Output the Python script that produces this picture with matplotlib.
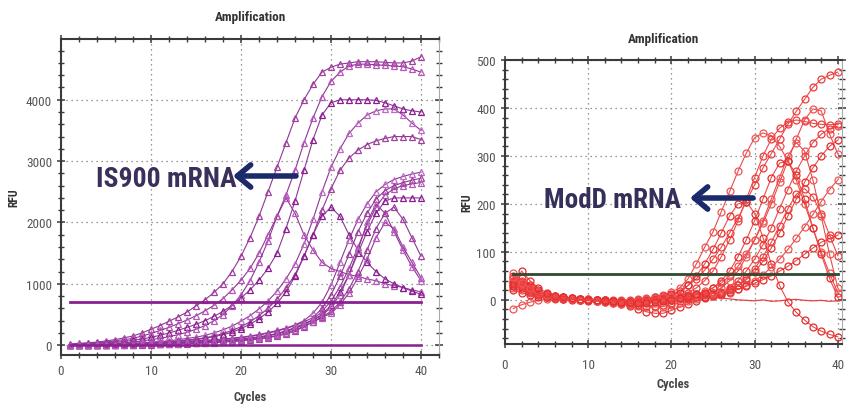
import matplotlib
matplotlib.use("Agg")
import matplotlib.pyplot as plt
from matplotlib import font_manager
from matplotlib.ticker import MultipleLocator

# pick a condensed face if the machine has one, else plain Liberation Sans
installed = {f.name for f in font_manager.fontManager.ttflist}
narrow_faces = ["Liberation Sans Narrow", "Roboto Condensed", "Open Sans Condensed",
                "DejaVu Sans Condensed", "Noto Sans Condensed", "Arial Narrow"]
narrow = next((n for n in narrow_faces if n in installed), None)
plt.rcParams["font.family"] = [narrow or "Liberation Sans", "DejaVu Sans"]
big_size = 20 if narrow else 17

cycles = list(range(1, 41))

# IS900 mRNA curves (RFU per cycle)
is900_a = [20, 30, 40, 50, 70, 90, 120, 150, 200, 260, 320, 390, 460, 540, 640, 740, 860, 1000, 1200, 1450,
           1750, 2100, 2500, 2900, 3300, 3700, 4000, 4250, 4450, 4530, 4580, 4600, 4620, 4620, 4620, 4610, 4600, 4600, 4630, 4700]
is900_b = [10, 20, 30, 40, 50, 70, 90, 110, 150, 190, 240, 290, 350, 410, 480, 560, 650, 760, 900, 1060,
           1250, 1500, 1800, 2100, 2450, 2850, 3300, 3700, 4050, 4300, 4450, 4550, 4580, 4580, 4570, 4560, 4550, 4540, 4500, 4450]
is900_c = [0, 10, 20, 30, 40, 50, 60, 80, 100, 130, 160, 200, 240, 290, 340, 400, 470, 550, 650, 770,
           900, 1060, 1250, 1500, 1900, 2350, 2850, 3350, 3750, 3950, 4000, 4000, 4000, 4000, 3990, 3950, 3900, 3850, 3820, 3800]
is900_d = [0, 0, 5, 10, 15, 20, 25, 30, 40, 50, 60, 70, 90, 110, 130, 160, 200, 250, 310, 390,
           480, 590, 720, 880, 1080, 1320, 1650, 2050, 2500, 2900, 3200, 3450, 3620, 3750, 3820, 3850, 3850, 3750, 3620, 3500]
is900_e = [0, 0, 0, 5, 10, 15, 20, 25, 30, 40, 50, 60, 70, 85, 100, 120, 150, 190, 240, 300,
           380, 480, 600, 750, 930, 1150, 1450, 1800, 2200, 2550, 2850, 3050, 3180, 3270, 3330, 3370, 3400, 3400, 3400, 3350]
is900_p1 = [0, 5, 10, 15, 20, 30, 40, 50, 70, 90, 110, 140, 170, 210, 260, 320, 400, 500, 640, 820,
            1050, 1350, 1700, 2100, 2400, 2150, 1800, 1550, 1350, 1250, 1200, 1150, 1120, 1080, 1050, 1000, 970, 940, 900, 870]
is900_p2 = [0, 0, 5, 5, 10, 10, 15, 20, 25, 30, 40, 50, 60, 75, 90, 110, 140, 170, 210, 270,
            340, 430, 540, 680, 870, 1120, 1450, 1800, 2100, 2250, 2100, 1800, 1550, 1350, 1200, 1080, 1000, 940, 880, 830]
is900_f = [10, 10, 10, 15, 15, 20, 20, 25, 30, 35, 40, 45, 50, 60, 70, 80, 90, 100, 115, 130,
           150, 175, 205, 240, 280, 330, 400, 520, 700, 980, 1350, 1720, 2050, 2300, 2500, 2620, 2700, 2750, 2790, 2820]
is900_g = [0, 5, 5, 10, 10, 15, 15, 20, 25, 30, 35, 40, 45, 50, 60, 70, 80, 90, 105, 120,
           140, 165, 195, 230, 270, 320, 380, 450, 600, 820, 1120, 1480, 1850, 2150, 2380, 2520, 2600, 2650, 2690, 2720]
is900_h = [0, 0, 5, 5, 10, 10, 15, 15, 20, 25, 30, 35, 40, 45, 50, 55, 65, 75, 85, 100,
           115, 135, 160, 190, 230, 280, 340, 420, 550, 720, 950, 1250, 1600, 1950, 2250, 2450, 2550, 2600, 2630, 2650]
is900_i = [10, 10, 10, 10, 15, 15, 15, 20, 20, 25, 25, 30, 35, 40, 45, 50, 60, 70, 80, 95,
           110, 130, 155, 185, 225, 275, 340, 410, 500, 650, 870, 1150, 1500, 1850, 2150, 2350, 2400, 2400, 2400, 2400]
is900_j = [0, 0, 0, 5, 5, 5, 10, 10, 15, 15, 20, 25, 30, 35, 40, 50, 60, 70, 80, 95,
           110, 130, 155, 190, 230, 290, 350, 410, 480, 620, 820, 1150, 1550, 2000, 2300, 2150, 1850, 1550, 1280, 1050]
is900_k = [0, 0, 0, 0, 5, 5, 5, 10, 10, 10, 15, 15, 20, 25, 30, 35, 40, 50, 60, 70,
           85, 100, 120, 150, 180, 230, 300, 380, 460, 550, 700, 920, 1200, 1550, 1900, 2150, 2250, 2050, 1750, 1450]
is900_l = [5, 5, 5, 5, 5, 10, 10, 10, 15, 15, 20, 20, 25, 30, 35, 40, 50, 60, 70, 80,
           95, 110, 130, 160, 200, 250, 310, 380, 450, 520, 660, 850, 1100, 1400, 1750, 2000, 1900, 1600, 1350, 1100]
is900_neg = [0, 0, 0, 0, 0, 0, 0, 0, 0, 0, 0, 0, 0, 0, 0, 0, 0, 0, 0, 0,
             0, 0, 0, 0, 0, 0, 0, 0, 0, 0, 0, 0, 0, 0, 0, 0, 0, 0, 0, 0]
is900_threshold = 700

# ModD mRNA curves (RFU per cycle)
modd_1 = [45, 35, 22, 14, 9, 6, 4, 2, 1, 0, 0, -1, -2, -3, -4, -4, -3, -1, 3, 10,
          18, 30, 44, 62, 85, 110, 140, 170, 205, 240, 275, 305, 335, 366, 393, 418, 443, 460, 468, 475]
modd_2 = [55, 40, 28, 18, 12, 8, 5, 3, 2, 1, 0, 0, -1, -1, 0, 1, 3, 6, 10, 16,
          25, 44, 75, 110, 142, 184, 226, 268, 306, 338, 348, 342, 320, 290, 250, 200, 150, 100, 55, 15]
modd_3 = [30, 45, 30, 20, 12, 8, 5, 3, 1, 0, -1, -2, -3, -3, -2, 0, 2, 5, 9, 12,
          15, 30, 50, 75, 105, 140, 175, 200, 205, 180, 130, 75, 30, -4, -26, -42, -56, -65, -72, -77]
modd_4 = [40, 30, 20, 14, 10, 7, 5, 3, 2, 1, 0, -1, -2, -3, -3, -2, -1, 1, 3, 5,
          8, 15, 25, 40, 60, 90, 125, 165, 210, 255, 300, 335, 358, 370, 375, 372, 368, 366, 365, 366]
modd_5 = [25, 20, 15, 10, 7, 5, 3, 2, 1, 0, -1, -2, -4, -5, -6, -6, -5, -3, 0, 3,
          5, 8, 12, 18, 25, 35, 50, 70, 95, 125, 160, 200, 245, 290, 335, 375, 398, 394, 346, 304]
modd_6 = [35, 25, 16, 10, 6, 3, 1, 0, -1, -2, -3, -5, -7, -9, -12, -18, -25, -28, -28, -22,
          -15, -8, -2, 3, 10, 15, 22, 30, 42, 58, 80, 108, 140, 175, 210, 245, 275, 300, 320, 333]
modd_7 = [50, 38, 26, 17, 11, 7, 4, 2, 0, -1, -2, -3, -4, -4, -4, -3, -2, 0, 2, 4,
          6, 8, 10, 12, 14, 15, 25, 40, 60, 85, 115, 150, 190, 230, 268, 300, 328, 345, 357, 362]
modd_8 = [-18, -10, -5, -1, 1, 2, 2, 1, 0, -1, -2, -4, -6, -8, -10, -12, -14, -15, -14, -10,
          -6, -2, 2, 5, 8, 10, 15, 22, 30, 40, 52, 68, 85, 105, 128, 152, 178, 205, 230, 250]
modd_9 = [20, 15, 10, 7, 5, 3, 2, 1, 0, 0, -1, -1, -2, -2, -2, -1, 0, 1, 2, 3,
          4, 4, 5, 5, 8, 12, 17, 22, 28, 35, 42, 50, 60, 70, 82, 95, 108, 120, 128, 135]
modd_10 = [38, 28, 18, 12, 8, 5, 3, 1, 0, -1, -2, -3, -5, -7, -9, -11, -12, -12, -10, -6,
           -2, 2, 6, 10, 14, 17, 20, 30, 45, 65, 90, 120, 155, 190, 220, 232, 215, 180, 135, 92]
modd_11 = [48, 36, 25, 17, 11, 7, 4, 2, 0, -1, -2, -3, -3, -3, -2, -1, 1, 3, 5, 7,
           9, 11, 13, 14, 15, 25, 40, 60, 90, 125, 165, 210, 255, 300, 328, 310, 250, 175, 95, 25]
modd_12 = [28, 60, 40, 25, 15, 9, 5, 3, 1, 0, -1, -2, -3, -4, -5, -6, -6, -5, -3, 0,
           4, 8, 12, 15, 25, 40, 60, 90, 125, 165, 210, 255, 285, 290, 260, 210, 150, 95, 45, 5]
modd_neg = [30, 22, 15, 10, 6, 4, 2, 1, 0, 0, -1, -1, -2, -2, -1, 0, 1, 2, 3, 3,
            4, 4, 3, 4, 4, 4, 2, 0, -1, -2, 0, -3, -2, 0, 1, -1, -2, -1, -3, -2]
modd_threshold = 53

is900_curves = [is900_a, is900_b, is900_c, is900_d, is900_e, is900_p1, is900_p2,
                is900_f, is900_g, is900_h, is900_i, is900_j, is900_k, is900_l]
modd_curves = [modd_1, modd_2, modd_3, modd_4, modd_5, modd_6, modd_7, modd_8,
               modd_9, modd_10, modd_11, modd_12]

purples = ["#a0409f", "#b556b8", "#8a1c8e", "#bd6cc2"]
reds = ["#ec3b3b", "#f05555", "#e52a2a"]

fig = plt.figure(figsize=(8.5, 4.06), dpi=100)
ax1 = fig.add_axes([61 / 850, 50 / 406, 378 / 850, 316 / 406])
ax2 = fig.add_axes([505 / 850, 61 / 406, 337 / 850, 284 / 406])


def style_axes(ax, ymin, ymax, xmax, yminor):
    ax.set_xlim(0, xmax)
    ax.set_ylim(ymin, ymax)
    ax.xaxis.set_major_locator(MultipleLocator(10))
    ax.xaxis.set_minor_locator(MultipleLocator(2))
    ax.yaxis.set_minor_locator(MultipleLocator(yminor))
    ax.grid(which="major", linestyle=(0, (1, 3)), color="#777777", linewidth=0.9)
    ax.tick_params(which="both", direction="inout", top=True, right=True,
                   colors="#3a3a3a", labelcolor="#555555", labelsize=9.5)
    ax.tick_params(which="major", length=6, width=1.1)
    ax.tick_params(which="minor", length=4, width=1.0)
    for side in ["left", "bottom", "top"]:
        ax.spines[side].set_color("#3a3a3a")
        ax.spines[side].set_linewidth(1.5)
    ax.spines["right"].set_color("#aaaaaa")
    ax.spines["right"].set_linewidth(0.8)
    ax.set_xlabel("Cycles", fontsize=9, color="#444444", fontweight="bold")
    ax.set_ylabel("RFU", fontsize=8.5, color="#333333", fontweight="bold")


# left panel: IS900
for i, curve in enumerate(is900_curves):
    col = purples[i % len(purples)]
    ax1.plot(cycles, curve, color="#8e3597", linewidth=0.8,
             marker="^", markersize=5, markerfacecolor="none",
             markeredgecolor=col, markeredgewidth=0.9)
ax1.plot(cycles, is900_neg, color="#8a1f8f", linewidth=1.8)
ax1.plot([cycles[0], cycles[-1]], [is900_threshold, is900_threshold],
         color="#8a1f8f", linewidth=2)
style_axes(ax1, -160, 4990, 42, 200)
ax1.yaxis.set_major_locator(MultipleLocator(1000))
ax1.xaxis.set_label_coords(0.5, -0.11)
ax1.yaxis.set_label_coords(-0.108, 0.5)

# right panel: ModD
for i, curve in enumerate(modd_curves):
    col = reds[i % len(reds)]
    ax2.plot(cycles, curve, color="#ec4a4a", linewidth=0.8,
             marker="o", markersize=5, markerfacecolor="none",
             markeredgecolor=col, markeredgewidth=0.9)
ax2.plot(cycles, modd_neg, color="#e84040", linewidth=0.9)
ax2.plot([cycles[0], cycles[-1]], [modd_threshold, modd_threshold],
         color="#2f4a30", linewidth=2)
style_axes(ax2, -92, 500, 40.5, 20)
ax2.yaxis.set_major_locator(MultipleLocator(100))
ax2.tick_params(axis="x", which="major", pad=7)
ax2.xaxis.set_label_coords(0.5, -0.116)
ax2.yaxis.set_label_coords(-0.095, 0.5)

fig.text(250 / 850, 1 - 17 / 406, "Amplification", ha="center", va="center",
         fontsize=9.5, fontweight="bold", color="#333333")
fig.text(663 / 850, 1 - 40 / 406, "Amplification", ha="center", va="center",
         fontsize=9.5, fontweight="bold", color="#333333")

fig.text(166 / 850, 1 - 180 / 406, "IS900 mRNA", ha="center", va="center",
         fontsize=big_size, fontweight="bold", color="#3b2f5c")
fig.text(612 / 850, 1 - 200 / 406, "ModD mRNA", ha="center", va="center",
         fontsize=big_size - 0.5, fontweight="bold", color="#35305a")

arrow_style = dict(arrowstyle="->, head_length=0.6, head_width=0.5",
                   color="#1b2a6b", linewidth=4, mutation_scale=16, shrinkA=0, shrinkB=0)
ax1.annotate("", xy=(233 / 850, 1 - 177 / 406), xycoords="figure fraction",
             xytext=(296 / 850, 1 - 177 / 406), textcoords="figure fraction",
             arrowprops=arrow_style)
ax2.annotate("", xy=(690 / 850, 1 - 199 / 406), xycoords="figure fraction",
             xytext=(753 / 850, 1 - 199 / 406), textcoords="figure fraction",
             arrowprops=arrow_style)

fig.savefig("out.png", dpi=100)
